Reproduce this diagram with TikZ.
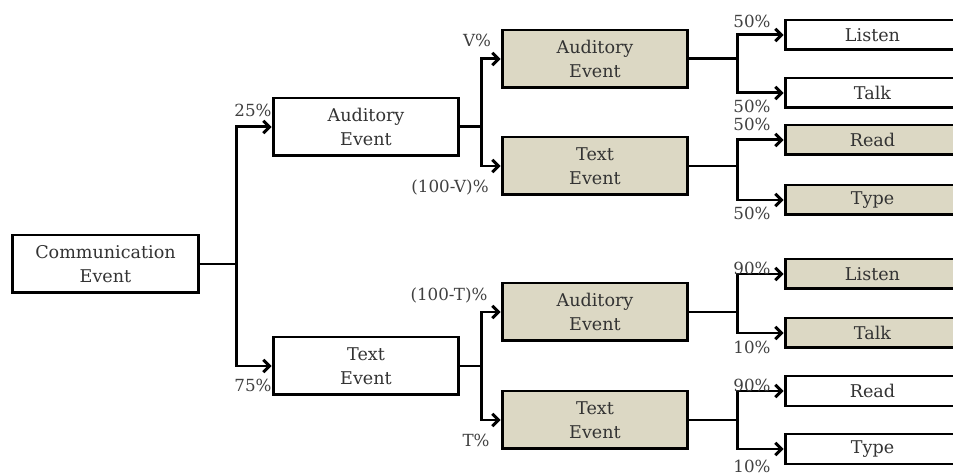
\documentclass[tikz,border=0pt]{standalone}
\usepackage{fontspec}
\setmainfont{DejaVu Serif}
\usetikzlibrary{arrows.meta, positioning}
\definecolor{evtfill}{RGB}{220,216,196}
\tikzset{
  evtbox/.style={draw=black, line width=1.7pt, text=black!80, align=center,
    minimum width=3.72cm, minimum height=1.16cm, inner sep=0pt,
    font=\fontsize{10}{13.6}\selectfont},
  actbox/.style={draw=black, line width=1.7pt, text=black!80,
    minimum width=3.5cm, minimum height=0.6cm, inner sep=0pt,
    font=\fontsize{10}{12}\selectfont},
  shaded/.style={fill=evtfill},
  pct/.style={text=black!75, inner sep=0pt, font=\fontsize{9.5}{11}\selectfont},
  link/.style={line width=1.7pt},
  arr/.style={link, -{Straight Barb[length=3.5pt,width=7pt]}}
}
\begin{document}
\begin{tikzpicture}[x=0.02cm, y=-0.02cm]
  \useasboundingbox (0,0) rectangle (953,475);
  \clip (0,0) rectangle (953,475);
  % Root
  \node[evtbox] (comm) at (105.5,264) {Communication\\Event};
  % First level
  \node[evtbox] (aud1) at (366,127) {Auditory\\Event};
  \node[evtbox] (txt1) at (366,366) {Text\\Event};
  % Second level
  \node[evtbox, shaded] (aud2a) at (595,59) {Auditory\\Event};
  \node[evtbox, shaded] (txt2a) at (595,166) {Text\\Event};
  \node[evtbox, shaded] (aud2b) at (595,312) {Auditory\\Event};
  \node[evtbox, shaded] (txt2b) at (595,420) {Text\\Event};
  % Actions
  \node[actbox] (lis1) at (872.5,35) {Listen};
  \node[actbox] (tlk1) at (872.5,93) {Talk};
  \node[actbox, shaded] (rd1) at (872.5,140) {Read};
  \node[actbox, shaded] (typ1) at (872.5,200) {Type};
  \node[actbox, shaded] (lis2) at (872.5,274) {Listen};
  \node[actbox, shaded] (tlk2) at (872.5,333) {Talk};
  \node[actbox] (rd2) at (872.5,391) {Read};
  \node[actbox] (typ2) at (872.5,449) {Type};
  % Branches
  \draw[link] (comm.east) -- ++(37,0) coordinate (b0);
  \draw[arr] (b0) |- (aud1.west);
  \draw[arr] (b0) |- (txt1.west);
  \draw[link] (aud1.east) -- ++(21,0) coordinate (b1);
  \draw[arr] (b1) |- (aud2a.west);
  \draw[arr] (b1) |- (txt2a.west);
  \draw[link] (txt1.east) -- ++(21,0) coordinate (b2);
  \draw[arr] (b2) |- (aud2b.west);
  \draw[arr] (b2) |- (txt2b.west);
  \draw[link] (aud2a.east) -- ++(48,0) coordinate (b3);
  \draw[arr] (b3) |- (lis1.west);
  \draw[arr] (b3) |- (tlk1.west);
  \draw[link] (txt2a.east) -- ++(48,0) coordinate (b4);
  \draw[arr] (b4) |- (rd1.west);
  \draw[arr] (b4) |- (typ1.west);
  \draw[link] (aud2b.east) -- ++(48,0) coordinate (b5);
  \draw[arr] (b5) |- (lis2.west);
  \draw[arr] (b5) |- (tlk2.west);
  \draw[link] (txt2b.east) -- ++(48,0) coordinate (b6);
  \draw[arr] (b6) |- (rd2.west);
  \draw[arr] (b6) |- (typ2.west);
  % Probabilities
  \node[pct] (p1) at (253,110) {25\%};
  \node[pct] (p2) at (253,385) {75\%};
  \node[pct] (p3) at (477,40) {V\%};
  \node[pct] (p4) at (450,187) {(100-V)\%};
  \node[pct] (p5) at (449,295) {(100-T)\%};
  \node[pct] (p6) at (476,440) {T\%};
  \node[pct] (p7) at (752,21) {50\%};
  \node[pct] (p8) at (752,106) {50\%};
  \node[pct] (p9) at (752,124) {50\%};
  \node[pct] (p10) at (752,213) {50\%};
  \node[pct] (p11) at (752,268) {90\%};
  \node[pct] (p12) at (752,347) {10\%};
  \node[pct] (p13) at (752,385) {90\%};
  \node[pct] (p14) at (752,466) {10\%};
\end{tikzpicture}
\end{document}
